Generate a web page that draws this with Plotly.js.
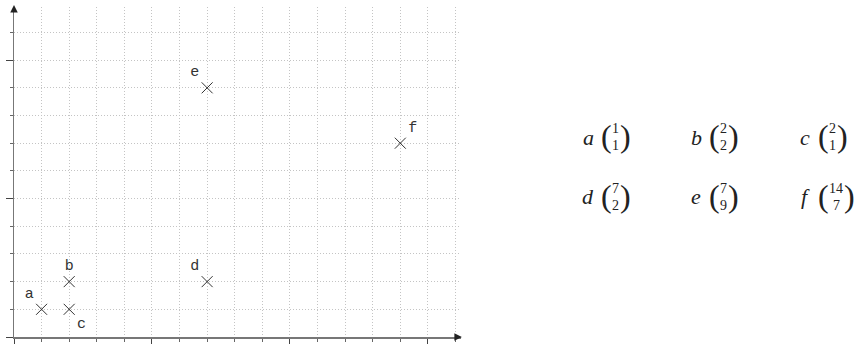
<!DOCTYPE html>
<html>
<head>
<meta charset="utf-8">
<script src="https://cdn.plot.ly/plotly-3.0.1.min.js"></script>
<style>
  html, body { margin: 0; padding: 0; background: #fff; }
  #chart { width: 860px; height: 344px; }
</style>
</head>
<body>
<div id="chart"></div>
<script>
// points of the figure
var names = ['a', 'b', 'c', 'd', 'e', 'f'];
var xs = [1, 2, 2, 7, 7, 14];
var ys = [1, 2, 1, 2, 9, 7];

// plot box in pixels (used to place the legend text in paper coords)
var L = 14, T = 7, W = 447, H = 330;
function px(x) { return (x - L) / W; }
function py(y) { return (T + H - y) / H; }

var mono = "'Liberation Mono', 'DejaVu Sans Mono', monospace";
var serif = "'Liberation Serif', 'DejaVu Serif', serif";

var trace = {
  x: xs,
  y: ys,
  text: names,
  mode: 'markers+text',
  type: 'scatter',
  textposition: ['top left', 'top center', 'bottom right', 'top left', 'top left', 'top right'],
  textfont: { family: mono, size: 15, color: '#333' },
  marker: {
    symbol: 'x-thin-open',
    size: 11,
    color: '#333',
    line: { width: 1, color: '#333' }
  },
  hoverinfo: 'none',
  cliponaxis: false
};

function makeAxis(range) {
  return {
    range: range,
    showline: true,
    linecolor: '#777',
    linewidth: 1.5,
    zeroline: false,
    showticklabels: false,
    ticks: 'outside',
    ticklen: 7,
    tickwidth: 1,
    tickcolor: '#444',
    dtick: 5,
    tick0: 0,
    showgrid: true,
    gridcolor: '#c4c4c4',
    griddash: '1px,2px',
    gridwidth: 1,
    minor: {
      dtick: 1,
      ticks: 'outside',
      ticklen: 3,
      tickcolor: '#666',
      showgrid: true,
      gridcolor: '#c4c4c4',
      griddash: '1px,2px',
      gridwidth: 1
    },
    fixedrange: true
  };
}

var annotations = [];

// axis arrows
annotations.push({
  xref: 'paper', yref: 'paper', x: 1.002, y: 0, ax: -4, ay: 0,
  showarrow: true, arrowhead: 2, arrowsize: 1, arrowwidth: 1.5,
  arrowcolor: '#222', text: ''
});
annotations.push({
  xref: 'paper', yref: 'paper', x: 0, y: 1.006, ax: 0, ay: 4,
  showarrow: true, arrowhead: 2, arrowsize: 1, arrowwidth: 1.5,
  arrowcolor: '#222', text: ''
});

// legend: name (x over y)
var colX = [588, 696, 805];
var rowY = [137, 197];
function note(x, y, text, size) {
  annotations.push({
    xref: 'paper', yref: 'paper', x: px(x), y: py(y),
    xanchor: 'center', yanchor: 'middle', showarrow: false,
    text: text,
    font: { family: serif, size: size, color: '#222' }
  });
}
for (var i = 0; i < names.length; i++) {
  var cx = colX[i % 3];
  var cy = rowY[Math.floor(i / 3)];
  var upper = String(xs[i]);
  var lower = String(ys[i]);
  var nw = Math.max(upper.length, lower.length) * 7;
  var openX = cx + 18;
  var numX = openX + 6 + nw / 2;
  var closeX = numX + nw / 2 + 6;
  note(cx, cy, '<i>' + names[i] + '</i>', 22);
  note(openX, cy - 1, '(', 32);
  note(closeX, cy - 1, ')', 32);
  note(numX, cy - 9, upper, 14);
  note(numX, cy + 8, lower, 14);
}

var layout = {
  width: 860,
  height: 344,
  margin: { l: L, r: 860 - L - W, t: T, b: 344 - T - H, pad: 0 },
  paper_bgcolor: '#fff',
  plot_bgcolor: '#fff',
  showlegend: false,
  xaxis: makeAxis([0, 16.2]),
  yaxis: makeAxis([0, 11.92]),
  annotations: annotations
};

Plotly.newPlot('chart', [trace], layout, { staticPlot: true });
</script>
</body>
</html>
